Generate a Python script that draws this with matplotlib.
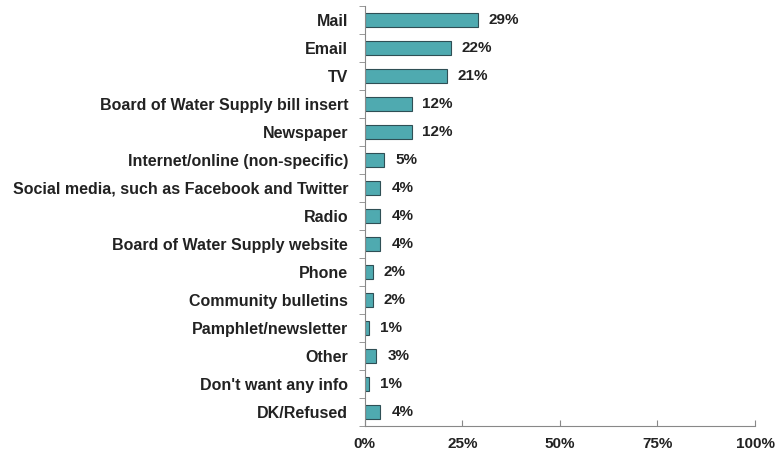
import matplotlib.pyplot as plt
import numpy as np

plt.rcParams['font.family'] = ['Liberation Sans', 'DejaVu Sans']

categories = ['Mail', 'Email', 'TV', 'Board of Water Supply bill insert', 'Newspaper',
              'Internet/online (non-specific)', 'Social media, such as Facebook and Twitter',
              'Radio', 'Board of Water Supply website', 'Phone', 'Community bulletins',
              'Pamphlet/newsletter', 'Other', "Don't want any info", 'DK/Refused']
values = [29, 22, 21, 12, 12, 5, 4, 4, 4, 2, 2, 1, 3, 1, 4]
xticks = [0, 25, 50, 75, 100]

fig = plt.figure(figsize=(7.76, 4.54), dpi=100)
ax = fig.add_axes([0.470, 0.062, 0.503, 0.925])

y = np.arange(len(categories))
ax.barh(y, values, height=0.5, color='#4FAAB0', edgecolor='#2F4F55', linewidth=0.8)

for yi, v in zip(y, values):
    ax.text(v + 2.8, yi, f'{v}%', va='center', ha='left', fontsize=11,
            fontweight='bold', color='#222222')

ax.set_xlim(0, 100)
ax.set_ylim(len(categories) - 0.5, -0.5)
ax.set_xticks(xticks)
ax.set_xticklabels([f'{t}%' for t in xticks], fontsize=11, fontweight='bold', color='#222222')
ax.set_yticks(y)
ax.set_yticklabels(categories, fontsize=11.5, fontweight='bold', color='#222222')
ax.set_yticks(np.arange(len(categories) + 1) - 0.5, minor=True)

ax.tick_params(axis='y', which='major', length=0, pad=12)
ax.tick_params(axis='y', which='minor', length=4, direction='out', color='#888888')
ax.tick_params(axis='x', length=4, direction='in', color='#888888', pad=8)

for s in ['top', 'right']:
    ax.spines[s].set_visible(False)
for s in ['left', 'bottom']:
    ax.spines[s].set_color('#888888')

fig.savefig('out.png', dpi=100)
